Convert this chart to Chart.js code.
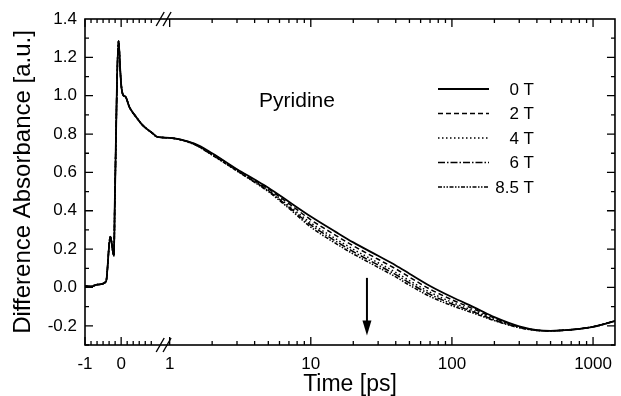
<!DOCTYPE html>
<html>
<head>
<meta charset="utf-8">
<script src="https://cdn.jsdelivr.net/npm/chart.js@4.4.1/dist/chart.umd.min.js"></script>
<style>
  html, body { margin: 0; padding: 0; background: #fff; }
  #wrap { width: 621px; height: 396px; }
</style>
</head>
<body>
<div id="wrap"><canvas id="chart" width="621" height="396"></canvas></div>
<script>
// field labels
const fields = ['0 T', '2 T', '4 T', '6 T', '8.5 T'];

// before the axis break (linear time axis, ps) - all fields lie on top of each other
const earlyTimes  = [-1, -0.85, -0.65, -0.42, -0.3, -0.2, -0.175, -0.07, -0.03, 0, 0.05, 0.12, 0.23, 0.41, 0.59, 0.87, 1.0];
const earlyValues = [0.008, 0.005, 0.015, 0.03, 0.265, 0.165, 0.45, 1.285, 1.15, 1.06, 1.005, 0.995, 0.94, 0.89, 0.847, 0.804, 0.785];

// after the break (log time axis, ps)
const lateTimes = [1, 1.5, 2, 3, 4, 5, 7, 10, 15, 20, 30, 40, 50, 70, 100, 150, 200, 300, 400, 500, 700, 1000, 1430];
const field0T  = [0.78, 0.75, 0.70, 0.617, 0.563, 0.52, 0.447, 0.37, 0.29, 0.235, 0.165, 0.115, 0.072, 0.008, -0.05, -0.11, -0.155, -0.203, -0.222, -0.226, -0.22, -0.205, -0.175];
const field2T  = [0.78, 0.749, 0.697, 0.614, 0.559, 0.514, 0.437, 0.353, 0.272, 0.217, 0.147, 0.097, 0.054, -0.009, -0.064, -0.119, -0.16, -0.205, -0.223, -0.226, -0.22, -0.205, -0.175];
const field4T  = [0.78, 0.747, 0.694, 0.611, 0.554, 0.508, 0.426, 0.337, 0.254, 0.199, 0.129, 0.079, 0.036, -0.025, -0.077, -0.128, -0.166, -0.207, -0.223, -0.226, -0.22, -0.205, -0.175];
const field6T  = [0.78, 0.746, 0.692, 0.609, 0.551, 0.504, 0.419, 0.326, 0.242, 0.187, 0.117, 0.067, 0.024, -0.036, -0.086, -0.134, -0.17, -0.208, -0.224, -0.226, -0.22, -0.205, -0.175];
const field85T = [0.78, 0.745, 0.69, 0.607, 0.548, 0.50, 0.412, 0.315, 0.23, 0.175, 0.105, 0.055, 0.012, -0.047, -0.095, -0.14, -0.173, -0.21, -0.224, -0.226, -0.22, -0.205, -0.175];
const lateValues = [field0T, field2T, field4T, field6T, field85T];

// tick labels
const xTickTimes  = [-1, 0, 1, 10, 100, 1000];
const xTickLabels = ['-1', '0', '1', '10', '100', '1000'];
const yTickValues = [-0.2, 0, 0.2, 0.4, 0.6, 0.8, 1.0, 1.2, 1.4];

// arrow marking 25 ps
const arrowTime = 25, arrowFrom = 0.05, arrowTo = -0.25;

const dashes = [[], [5, 3], [1.5, 2.5], [7, 2, 1.5, 2], [4, 1.5, 1.5, 1.5, 1.5, 1.5]];

// broken axis: linear for t <= 1, log10 after the break
const LOG_START = 1.342;
const PER_DECADE = 3.904;
const logPos = t => LOG_START + PER_DECADE * Math.log10(t);
const tickPos = t => t < 1 ? t : logPos(t);

const datasets = fields.map((f, i) => ({
  label: f,
  data: earlyTimes.map((t, k) => ({x: t, y: earlyValues[k]}))
    .concat(lateTimes.map((t, k) => ({x: logPos(t), y: lateValues[i][k]}))),
  borderColor: '#000',
  borderWidth: i === 0 ? 1.8 : 1.5,
  borderDash: dashes[i],
  pointRadius: 0,
  cubicInterpolationMode: 'monotone',
  fill: false
}));

const font = 'Liberation Sans, Arial, Helvetica, sans-serif';

const decor = {
  id: 'decor',
  afterDatasetsDraw(chart) {
    const {ctx, chartArea: a, scales: {x, y}} = chart;
    ctx.save();
    ctx.strokeStyle = '#000';
    ctx.fillStyle = '#000';
    ctx.lineWidth = 1.6;
    ctx.strokeRect(a.left, a.top, a.right - a.left, a.bottom - a.top);

    // inward tick marks
    ctx.lineWidth = 1.3;
    const xtick = (pos, len) => {
      const px = x.getPixelForValue(pos);
      if (px < a.left - 0.5 || px > a.right + 0.5) return;
      ctx.beginPath();
      ctx.moveTo(px, a.bottom); ctx.lineTo(px, a.bottom - len);
      ctx.moveTo(px, a.top); ctx.lineTo(px, a.top + len);
      ctx.stroke();
    };
    for (let k = 0; k <= 11; k++) xtick(-1 + k / 6, k % 6 === 0 ? 8 : 4);
    for (let d = 0; d <= 3; d++) {
      for (let m = 1; m <= 9; m++) {
        const t = m * Math.pow(10, d);
        if (t > 1430) break;
        xtick(logPos(t), m === 1 ? 8 : 4);
      }
    }
    const ytick = (v, len) => {
      const py = y.getPixelForValue(v);
      ctx.beginPath();
      ctx.moveTo(a.left, py); ctx.lineTo(a.left + len, py);
      ctx.moveTo(a.right, py); ctx.lineTo(a.right - len, py);
      ctx.stroke();
    };
    for (let k = -3; k <= 13; k++) ytick(k / 10, k % 2 === 0 ? 8 : 4);

    // axis break marks
    ctx.lineWidth = 1.4;
    [1.08, 1.27].forEach(u => {
      const px = x.getPixelForValue(u);
      [a.top, a.bottom].forEach(py => {
        ctx.beginPath();
        ctx.moveTo(px - 4, py + 7); ctx.lineTo(px + 4, py - 7);
        ctx.stroke();
      });
    });

    // legend
    ctx.font = '17px ' + font;
    ctx.textAlign = 'right';
    ctx.textBaseline = 'middle';
    chart.data.datasets.forEach((ds, i) => {
      const ly = 89 + i * 24.5;
      ctx.lineWidth = ds.borderWidth;
      ctx.setLineDash(ds.borderDash);
      ctx.beginPath();
      ctx.moveTo(438, ly); ctx.lineTo(489, ly);
      ctx.stroke();
      ctx.setLineDash([]);
      ctx.fillText(ds.label, 534, ly + 1);
    });

    // sample name
    ctx.font = '21px ' + font;
    ctx.textAlign = 'center';
    ctx.fillText('Pyridine', 297, 101);

    // arrow
    const ax = x.getPixelForValue(logPos(arrowTime));
    const y0 = y.getPixelForValue(arrowFrom), y1 = y.getPixelForValue(arrowTo);
    ctx.lineWidth = 2;
    ctx.beginPath();
    ctx.moveTo(ax, y0); ctx.lineTo(ax, y1 - 12);
    ctx.stroke();
    ctx.beginPath();
    ctx.moveTo(ax - 4.5, y1 - 15); ctx.lineTo(ax + 4.5, y1 - 15); ctx.lineTo(ax, y1);
    ctx.closePath();
    ctx.fill();
    ctx.restore();
  }
};

new Chart(document.getElementById('chart'), {
  type: 'line',
  data: { datasets: datasets },
  plugins: [decor],
  options: {
    responsive: false,
    animation: false,
    devicePixelRatio: 1,
    layout: { padding: { top: 19, right: 1, left: 0, bottom: 0 } },
    plugins: {
      legend: { display: false },
      tooltip: { enabled: false }
    },
    scales: {
      x: {
        type: 'linear',
        min: -1,
        max: logPos(1430),
        grid: { display: false, drawTicks: false },
        border: { display: false },
        afterBuildTicks: s => { s.ticks = xTickTimes.map(t => ({ value: tickPos(t) })); },
        afterFit: s => { s.height = 51; },
        ticks: {
          autoSkip: false,
          maxRotation: 0,
          padding: 9,
          color: '#000',
          font: { family: font, size: 17 },
          callback: (v, i) => xTickLabels[i]
        },
        title: {
          display: true,
          text: 'Time [ps]',
          color: '#000',
          font: { family: font, size: 23, lineHeight: 1 },
          padding: { top: 0, bottom: 0 }
        }
      },
      y: {
        min: -0.3,
        max: 1.4,
        grid: { display: false, drawTicks: false },
        border: { display: false },
        afterBuildTicks: s => { s.ticks = yTickValues.map(v => ({ value: v })); },
        afterFit: s => { s.width = 85; },
        ticks: {
          autoSkip: false,
          padding: 8,
          color: '#000',
          font: { family: font, size: 17 },
          callback: v => v.toFixed(1)
        },
        title: {
          display: true,
          text: 'Difference Absorbance [a.u.]',
          color: '#000',
          font: { family: font, size: 24, lineHeight: 1.1 },
          padding: { top: 10, bottom: 0 }
        }
      }
    }
  }
});
</script>
</body>
</html>
